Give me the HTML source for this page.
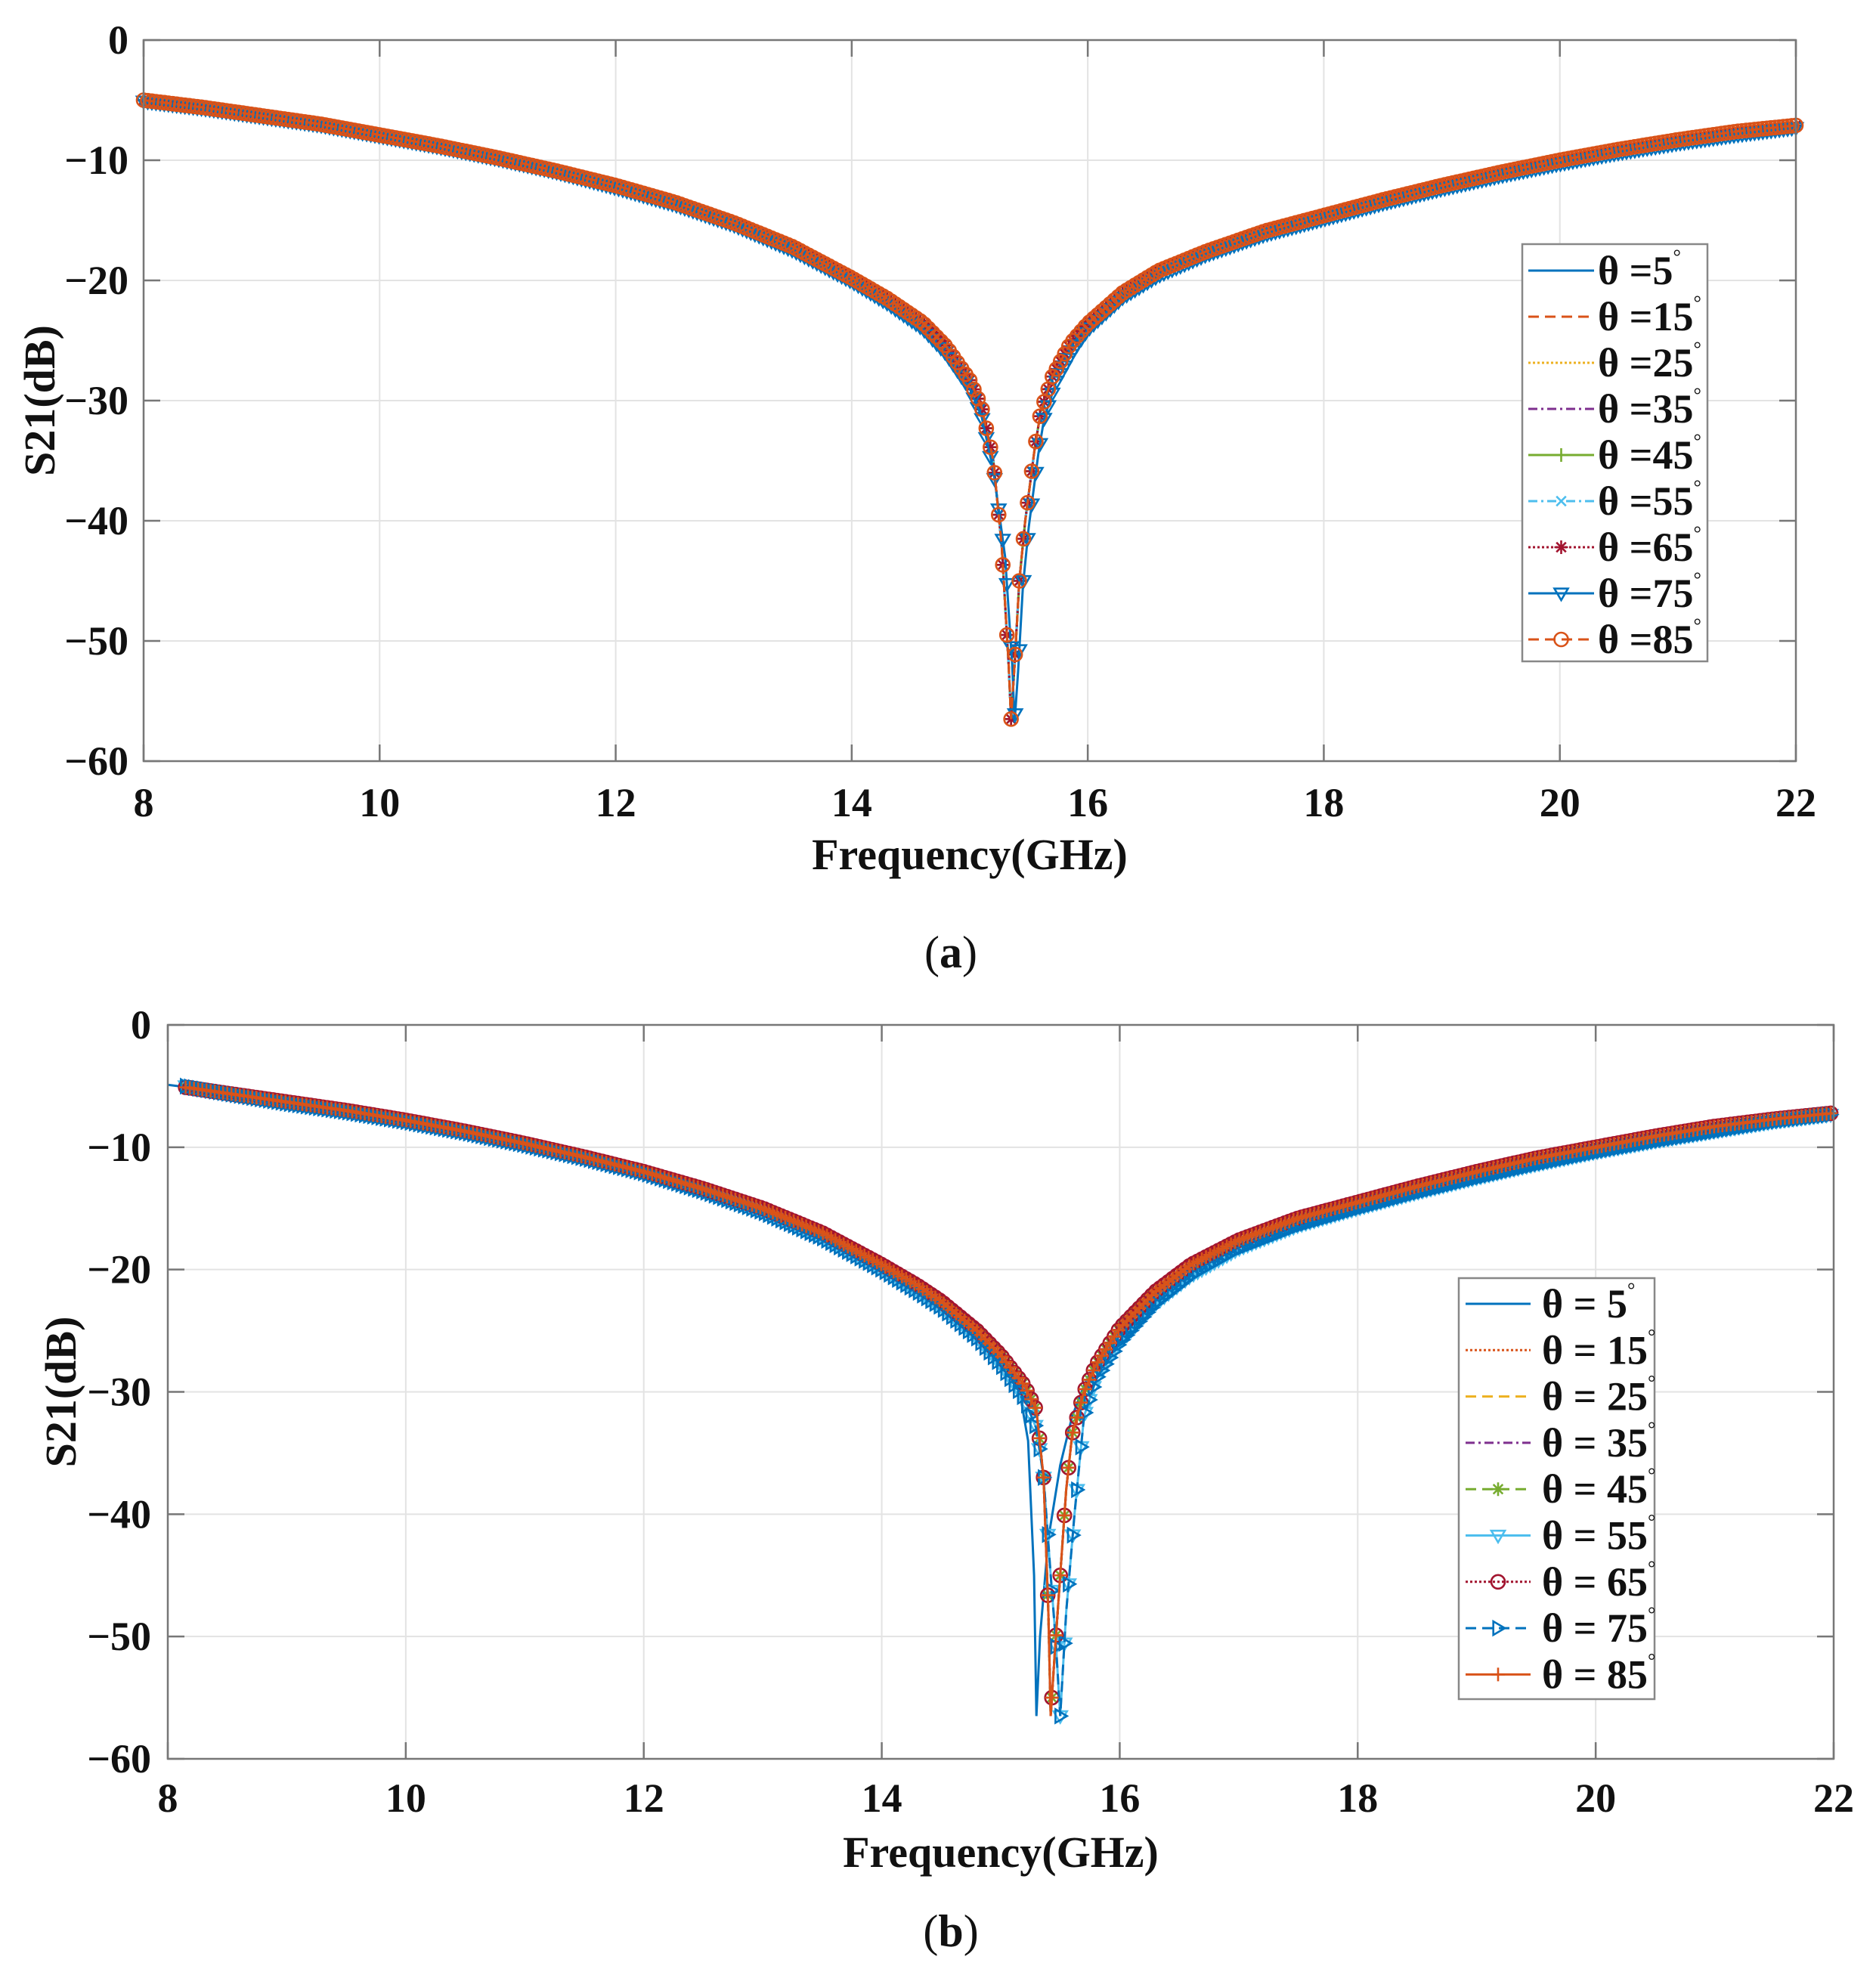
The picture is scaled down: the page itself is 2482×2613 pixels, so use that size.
<!DOCTYPE html>
<html><head><meta charset="utf-8">
<style>
html,body{margin:0;padding:0;background:#fff;}
svg{display:block;font-family:"Liberation Serif",serif;}
</style></head>
<body>
<svg id="fig" width="2482" height="2613" viewBox="0 0 2482 2613" xmlns="http://www.w3.org/2000/svg"></svg>
<script>
const xTicks = [8,10,12,14,16,18,20,22];
const yTicks = [0,-10,-20,-30,-40,-50,-60];
const labelsA = ["θ =5","θ =15","θ =25","θ =35","θ =45","θ =55","θ =65","θ =75","θ =85"];
const labelsB = ["θ = 5","θ = 15","θ = 25","θ = 35","θ = 45","θ = 55","θ = 65","θ = 75","θ = 85"];

// ---------- data (a) ----------
const freqA = [8,8.5,9,9.5,10,10.5,11,11.5,12,12.5,13,13.5,14,14.3,14.6,14.8,15,15.1,15.2,15.27,15.33,15.35,15.38,15.42,15.47,15.55,15.6,15.7,15.85,16,16.3,16.6,17,17.5,18,18.5,19,19.5,20,20.5,21,21.5,22];
const s21A = [-5,-5.6,-6.3,-7.0,-7.9,-8.8,-9.8,-10.9,-12.1,-13.5,-15.2,-17.2,-19.8,-21.5,-23.5,-25.5,-28.3,-30.5,-35,-42,-52,-56.5,-52,-45,-40,-34,-31,-28,-25.3,-23.6,-21,-19.2,-17.6,-15.9,-14.6,-13.3,-12.1,-11.0,-10.0,-9.1,-8.3,-7.6,-7.1];
const freqA75 = [8,8.5,9,9.5,10,10.5,11,11.5,12,12.5,13,13.5,14,14.3,14.6,14.8,15,15.1,15.2,15.3,15.36,15.38,15.41,15.45,15.5,15.58,15.63,15.73,15.88,16,16.3,16.6,17,17.5,18,18.5,19,19.5,20,20.5,21,21.5,22];
const s21A75 = [-5.1,-5.7,-6.4,-7.1,-8.0,-8.9,-9.9,-11.0,-12.3,-13.7,-15.4,-17.5,-20.1,-21.9,-24,-26.1,-29,-31.3,-35.8,-43,-52,-56.8,-52.5,-45.5,-40.5,-34.5,-31.5,-28.5,-25.8,-24.1,-21.4,-19.6,-17.9,-16.2,-14.9,-13.6,-12.4,-11.3,-10.3,-9.4,-8.6,-7.9,-7.3];

// ---------- data (b) ----------
const freqB = [8.15,8.5,9,9.5,10,10.5,11,11.5,12,12.5,13,13.5,14,14.3,14.5,14.8,15,15.2,15.3,15.36,15.4,15.42,15.45,15.5,15.55,15.6,15.7,15.8,16,16.3,16.6,17,17.5,18,18.5,19,19.5,20,20.5,21,21.5,22];
const s21B = [-5.1,-5.6,-6.3,-7.0,-7.8,-8.7,-9.7,-10.8,-12.0,-13.4,-15.0,-17.0,-19.6,-21.3,-22.6,-25,-27,-29.5,-31.5,-37,-48,-56.5,-52,-45,-38,-33.5,-30,-27.8,-24.8,-21.8,-19.6,-17.6,-15.8,-14.5,-13.2,-12,-10.9,-10.0,-9.1,-8.3,-7.7,-7.2];
const freqB5 = [8.0,8.5,9,9.5,10,10.5,11,11.5,12,12.5,13,13.5,14,14.3,14.5,14.8,15,15.15,15.23,15.28,15.3,15.33,15.4,15.5,15.6,15.7,15.8,16,16.3,16.6,17,17.5,18,18.5,19,19.5,20,20.5,21,21.5,22];
const s21B5 = [-4.9,-5.5,-6.2,-6.9,-7.7,-8.6,-9.6,-10.7,-11.8,-13.2,-14.8,-16.8,-19.3,-20.9,-22.1,-24.4,-26.5,-29.5,-34,-45,-56.5,-50,-42,-36,-32,-29.5,-27.5,-24.5,-21.5,-19.5,-17.8,-16,-14.6,-13.3,-12,-10.9,-10.0,-9.1,-8.3,-7.7,-7.1];
const freqB75 = [8.15,8.5,9,9.5,10,10.5,11,11.5,12,12.5,13,13.5,14,14.3,14.5,14.8,15,15.2,15.3,15.36,15.42,15.46,15.5,15.55,15.62,15.7,15.8,16,16.3,16.6,17,17.5,18,18.5,19,19.5,20,20.5,21,21.5,22];
const s21B75 = [-5.0,-5.6,-6.4,-7.1,-7.9,-8.8,-9.8,-10.9,-12.1,-13.6,-15.3,-17.4,-20.0,-21.8,-23.1,-25.6,-27.8,-30.6,-33,-37,-45,-50,-56.5,-48,-40,-32,-29,-26,-22.8,-20.5,-18.3,-16.4,-15,-13.7,-12.5,-11.4,-10.4,-9.5,-8.7,-7.9,-7.3];

const seriesA = [
 {f:freqA,v:s21A,c:"#0072BD",d:"",m:""},
 {f:freqA,v:s21A,c:"#D95319",d:"14,8",m:""},
 {f:freqA,v:s21A,c:"#EDB120",d:"3,3",m:""},
 {f:freqA,v:s21A,c:"#7E2F8E",d:"12,5,3,5",m:""},
 {f:freqA,v:s21A,c:"#77AC30",d:"",m:"+"},
 {f:freqA,v:s21A,c:"#4DBEEE",d:"12,5,3,5",m:"x"},
 {f:freqA,v:s21A,c:"#A2142F",d:"3,3",m:"*"},
 {f:freqA75,v:s21A75,c:"#0072BD",d:"",m:"v"},
 {f:freqA,v:s21A,c:"#D95319",d:"14,8",m:"o"}
];
const seriesB = [
 {f:freqB5,v:s21B5,c:"#0072BD",d:"",m:""},
 {f:freqB,v:s21B,c:"#D95319",d:"3,3",m:""},
 {f:freqB,v:s21B,c:"#EDB120",d:"14,8",m:""},
 {f:freqB,v:s21B,c:"#7E2F8E",d:"12,5,3,5",m:""},
 {f:freqB,v:s21B,c:"#77AC30",d:"14,8",m:"*"},
 {f:freqB75,v:s21B75,c:"#4DBEEE",d:"",m:"v"},
 {f:freqB,v:s21B,c:"#A2142F",d:"3,3",m:"o"},
 {f:freqB75,v:s21B75,c:"#0072BD",d:"14,8",m:">"},
 {f:freqB,v:s21B,c:"#D95319",d:"",m:"+"}
];

const NS="http://www.w3.org/2000/svg";
const svg=document.getElementById('fig');
function el(tag,attrs,parent){const e=document.createElementNS(NS,tag);for(const k in attrs)e.setAttribute(k,attrs[k]);(parent||svg).appendChild(e);return e;}

function marker(g,m,x,y,c,s){
  const st={stroke:c,"stroke-width":2.6,fill:"none"};
  if(m==="o")return el("circle",Object.assign({cx:x,cy:y,r:s},st),g);
  if(m==="+")return el("path",Object.assign({d:`M${x-s} ${y}H${x+s}M${x} ${y-s}V${y+s}`},st),g);
  if(m==="x")return el("path",Object.assign({d:`M${x-s*0.7} ${y-s*0.7}L${x+s*0.7} ${y+s*0.7}M${x-s*0.7} ${y+s*0.7}L${x+s*0.7} ${y-s*0.7}`},st),g);
  if(m==="*")return el("path",Object.assign({d:`M${x-s} ${y}H${x+s}M${x} ${y-s}V${y+s}M${x-s*0.7} ${y-s*0.7}L${x+s*0.7} ${y+s*0.7}M${x-s*0.7} ${y+s*0.7}L${x+s*0.7} ${y-s*0.7}`},st),g);
  if(m==="v")return el("path",Object.assign({d:`M${x-s} ${y-s*0.7}H${x+s}L${x} ${y+s}Z`},st),g);
  if(m===">")return el("path",Object.assign({d:`M${x-s*0.7} ${y-s}V${y+s}L${x+s} ${y}Z`},st),g);
}

function interp(f,v,x){for(let i=0;i<f.length-1;i++){if(x>=f[i]&&x<=f[i+1]){const t=(x-f[i])/(f[i+1]-f[i]);return v[i]+t*(v[i+1]-v[i]);}}return null;}

function drawChart(cfg){
  const {L,R,T,B,series,labels,name}=cfg;
  const root=el("g",{});
  
  
  const sx=f=>L+(f-8)/(22-8)*(R-L);
  const sy=v=>T+(0-v)/60*(B-T);
  const grid=el("g",{},root);
  
  
  xTicks.forEach(t=>{const x=sx(t);el("line",{x1:x,x2:x,y1:T,y2:B,stroke:"#e3e3e3","stroke-width":2},grid);});
  yTicks.forEach(t=>{const y=sy(t);el("line",{x1:L,x2:R,y1:y,y2:y,stroke:"#e3e3e3","stroke-width":2},grid);});
  xTicks.forEach(t=>{const x=sx(t);el("path",{d:`M${x} ${B}V${B-22}M${x} ${T}V${T+22}`,stroke:"#777","stroke-width":2.5},root);});
  yTicks.forEach(t=>{const y=sy(t);el("path",{d:`M${L} ${y}H${L+22}M${R} ${y}H${R-22}`,stroke:"#777","stroke-width":2.5},root);});
  series.forEach((s,i)=>{
    const g=el("g",{},root);
    
    
    const d=s.f.map((f,j)=>(j?"L":"M")+sx(f).toFixed(1)+" "+sy(s.v[j]).toFixed(1)).join("");
    const p=el("path",{d:d,fill:"none",stroke:s.c,"stroke-width":3},g);
    if(s.d)p.setAttribute("stroke-dasharray",s.d);
    if(s.m){
      const f0=s.f[0],f1=s.f[s.f.length-1];
      for(let f=f0;f<=f1+1e-9;f+=0.035){
        const v=interp(s.f,s.v,Math.min(f,f1));
        if(v!==null)marker(g,s.m,sx(f),sy(v),s.c,9);
      }
    }
  });
  el("rect",{x:L,y:T,width:R-L,height:B-T,fill:"none",stroke:"#777","stroke-width":2.5},root);
  xTicks.forEach(t=>{const tx=el("text",{x:sx(t),y:cfg.xLabY,"font-size":54,"font-weight":"bold","text-anchor":"middle",fill:"#111"},root);tx.textContent=t;
    
    });
  yTicks.forEach(t=>{const tx=el("text",{x:cfg.yLabX,y:sy(t)+18,"font-size":54,"font-weight":"bold","text-anchor":"end",fill:"#111"},root);tx.textContent=(t<0?"\u2212"+(-t):t);
    
    });
  const xt=el("text",{x:(L+R)/2,y:cfg.xTitleY,"font-size":58,"font-weight":"bold","text-anchor":"middle",fill:"#111"},root);
  xt.textContent="Frequency(GHz)";
  
  
  const yt=el("text",{x:0,y:0,"font-size":58,"font-weight":"bold","text-anchor":"middle",fill:"#111",transform:`translate(${cfg.yTitleX},${(T+B)/2}) rotate(-90)`},root);
  yt.textContent="S21(dB)";
  
  
  const pl=el("text",{x:1258,y:cfg.panelY,"font-size":60,"text-anchor":"middle",fill:"#111"},root);
  pl.innerHTML=cfg.panel;
  
  
  const lg=el("g",{},root);
  
  
  const Lg=cfg.leg;
  el("rect",{x:Lg.x0,y:Lg.y0,width:Lg.x1-Lg.x0,height:Lg.y1-Lg.y0,fill:"#fff",stroke:"#888","stroke-width":2.5},lg);
  series.forEach((s,i)=>{
    const y=Lg.r0+i*Lg.dy;
    const e=el("g",{},lg);
    
    
    const p=el("line",{x1:Lg.lx0,x2:Lg.lx1,y1:y,y2:y,stroke:s.c,"stroke-width":3},e);
    if(s.d)p.setAttribute("stroke-dasharray",s.d);
    if(s.m)marker(e,s.m,(Lg.lx0+Lg.lx1)/2,y,s.c,9);
    const t=el("text",{x:Lg.tx,y:y+18,"font-size":54,"font-weight":"bold",fill:"#111"},e);
    t.textContent=labels[i];
    const sup=el("tspan",{"font-size":26,dy:-28,"font-weight":"normal"},t);
    sup.textContent="°";
  });
}

drawChart({name:"chart-a",L:190,R:2376,T:53,B:1007,series:seriesA,labels:labelsA,
  xLabY:1080,yLabX:170,xTitleY:1150,yTitleX:72,panel:"(<tspan font-weight='bold'>a</tspan>)",panelY:1280,
  leg:{x0:2014,y0:323,x1:2259,y1:875,r0:358,dy:61,lx0:2022,lx1:2109,tx:2114}});
drawChart({name:"chart-b",L:222,R:2426,T:1356,B:2327,series:seriesB,labels:labelsB,
  xLabY:2397,yLabX:200,xTitleY:2470,yTitleX:100,panel:"(<tspan font-weight='bold'>b</tspan>)",panelY:2575,
  leg:{x0:1930,y0:1691,x1:2189,y1:2248,r0:1725,dy:61.3,lx0:1939,lx1:2025,tx:2040}});
</script>
</body></html>
